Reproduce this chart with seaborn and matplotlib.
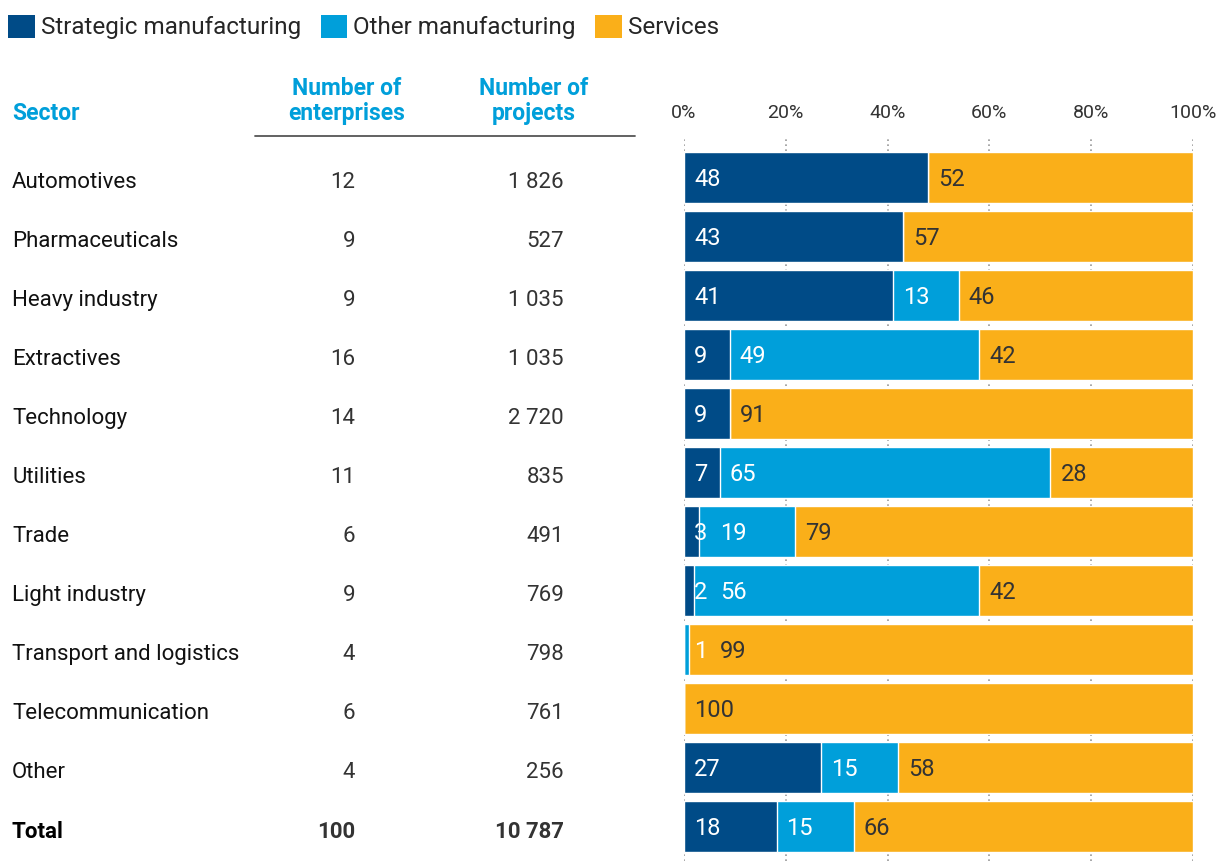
import matplotlib
matplotlib.use("Agg")
import matplotlib.pyplot as plt
import matplotlib.transforms as mtransforms
from matplotlib.patches import Patch
from matplotlib.lines import Line2D
import numpy as np
import pandas as pd
import seaborn as sns

# ---------------- data ----------------
sectors = ["Automotives", "Pharmaceuticals", "Heavy industry", "Extractives",
           "Technology", "Utilities", "Trade", "Light industry",
           "Transport and logistics", "Telecommunication", "Other", "Total"]
enterprises = [12, 9, 9, 16, 14, 11, 6, 9, 4, 6, 4, 100]
projects = [1826, 527, 1035, 1035, 2720, 835, 491, 769, 798, 761, 256, 10787]
strategic = [48, 43, 41, 9, 9, 7, 3, 2, 0, 0, 27, 18]
other_manuf = [0, 0, 13, 49, 0, 65, 19, 56, 1, 0, 15, 15]
services = [52, 57, 46, 42, 91, 28, 79, 42, 99, 100, 58, 66]
series_names = ["Strategic manufacturing", "Other manufacturing", "Services"]
tick_values = [0, 20, 40, 60, 80, 100]

# ---------------- style ----------------
sns.set_style("white")
plt.rcParams["font.family"] = ["Roboto", "DejaVu Sans"]

C_STRAT = "#004B87"
C_OTHER = "#009FDA"
C_SERV = "#FAAF19"
C_HEAD = "#009FDA"
C_TXT = "#333333"

df = pd.DataFrame({"sector": sectors, "s": strategic, "o": other_manuf, "v": services})
tot = df["s"] + df["o"] + df["v"]
df["c1"] = df["s"] / tot * 100
df["c2"] = (df["s"] + df["o"]) / tot * 100
df["c3"] = (df["s"] + df["o"] + df["v"]) / tot * 100

W, H = 1218, 861
fig = plt.figure(figsize=(W / 100, H / 100), dpi=100)
ax = fig.add_axes([684 / W, 0.0, (1193 - 684) / W, 1 - 137 / H])

bw = 0.876
sns.barplot(data=df, x="c3", y="sector", orient="h", color=C_SERV, width=bw,
            saturation=1, ax=ax, zorder=2)
sns.barplot(data=df, x="c2", y="sector", orient="h", color=C_OTHER, width=bw,
            saturation=1, ax=ax, zorder=3)
sns.barplot(data=df, x="c1", y="sector", orient="h", color=C_STRAT, width=bw,
            saturation=1, ax=ax, zorder=4)

ax.set_xlim(0, 100)
ax.set_ylim(11.585, -0.686)
ax.set_xlabel("")
ax.set_ylabel("")
ax.set_yticks([])
ax.xaxis.tick_top()
ax.set_xticks(tick_values)
ax.set_xticklabels([f"{t}%" for t in tick_values])
ax.tick_params(axis="x", length=0, pad=11, labelsize=14, labelcolor=C_TXT)
for sp in ax.spines.values():
    sp.set_visible(False)
ax.grid(axis="x", color="#999999", linestyle=(0, (1, 2)), linewidth=1.2, zorder=0)
ax.set_axisbelow(True)

# bar labels (shifted right when a previous label would overlap)
fs = 16
lfs = 17
renderer = fig.canvas.get_renderer()
inv = ax.transData.inverted()
for i in range(len(sectors)):
    lefts = [0, df["c1"][i], df["c2"][i]]
    vals = [strategic[i], other_manuf[i], services[i]]
    cols = ["white", "white", C_TXT]
    prev_end = -1e9
    for left, v, c in zip(lefts, vals, cols):
        if v == 0:
            continue
        seg_px = ax.transData.transform((left, i))[0]
        x_px = max(seg_px + 10, prev_end + 13)
        x_data = inv.transform((x_px, 0))[0]
        t = ax.text(x_data, i + 0.04, str(v), va="center", ha="left", color=c,
                    fontsize=lfs, zorder=6)
        prev_end = t.get_window_extent(renderer).x1

# left table
trans = mtransforms.blended_transform_factory(fig.transFigure, ax.transData)
x_sec, x_ent, x_proj = 12 / W, 355 / W, 564 / W
for i, name in enumerate(sectors):
    bold = name == "Total"
    w = "bold" if bold else "normal"
    fig.text(x_sec, i + 0.09, name, transform=trans, ha="left", va="center",
             fontsize=fs, fontweight=w, color="#111111" if not bold else "black")
    fig.text(x_ent, i + 0.09, f"{enterprises[i]}", transform=trans, ha="right",
             va="center", fontsize=fs, fontweight=w, color=C_TXT)
    fig.text(x_proj, i + 0.09, f"{projects[i]:,}".replace(",", " "), transform=trans,
             ha="right", va="center", fontsize=fs, fontweight=w, color=C_TXT)

# headers
fig.text(x_sec, 1 - 114 / H, "Sector", ha="left", va="center", fontsize=16.5,
         fontweight="bold", color=C_HEAD)
fig.text(347 / W, 1 - 101 / H, "Number of\nenterprises", ha="center", va="center",
         fontsize=16.5, fontweight="bold", color=C_HEAD, linespacing=1.1)
fig.text(534 / W, 1 - 101 / H, "Number of\nprojects", ha="center", va="center",
         fontsize=16.5, fontweight="bold", color=C_HEAD, linespacing=1.1)
fig.add_artist(Line2D([255 / W, 635 / W], [1 - 136 / H, 1 - 136 / H],
                      transform=fig.transFigure, color="#555555", linewidth=1.3))

# legend
handles = [Patch(facecolor=c, edgecolor="none") for c in (C_STRAT, C_OTHER, C_SERV)]
fig.legend(handles, series_names, loc="center left", bbox_to_anchor=(8 / W, 1 - 27 / H),
           ncol=3, frameon=False, fontsize=17.5, handlelength=1.1, handleheight=1.1,
           handletextpad=0.25, columnspacing=0.8, borderpad=0, borderaxespad=0)

fig.savefig("out.png", dpi=100)
